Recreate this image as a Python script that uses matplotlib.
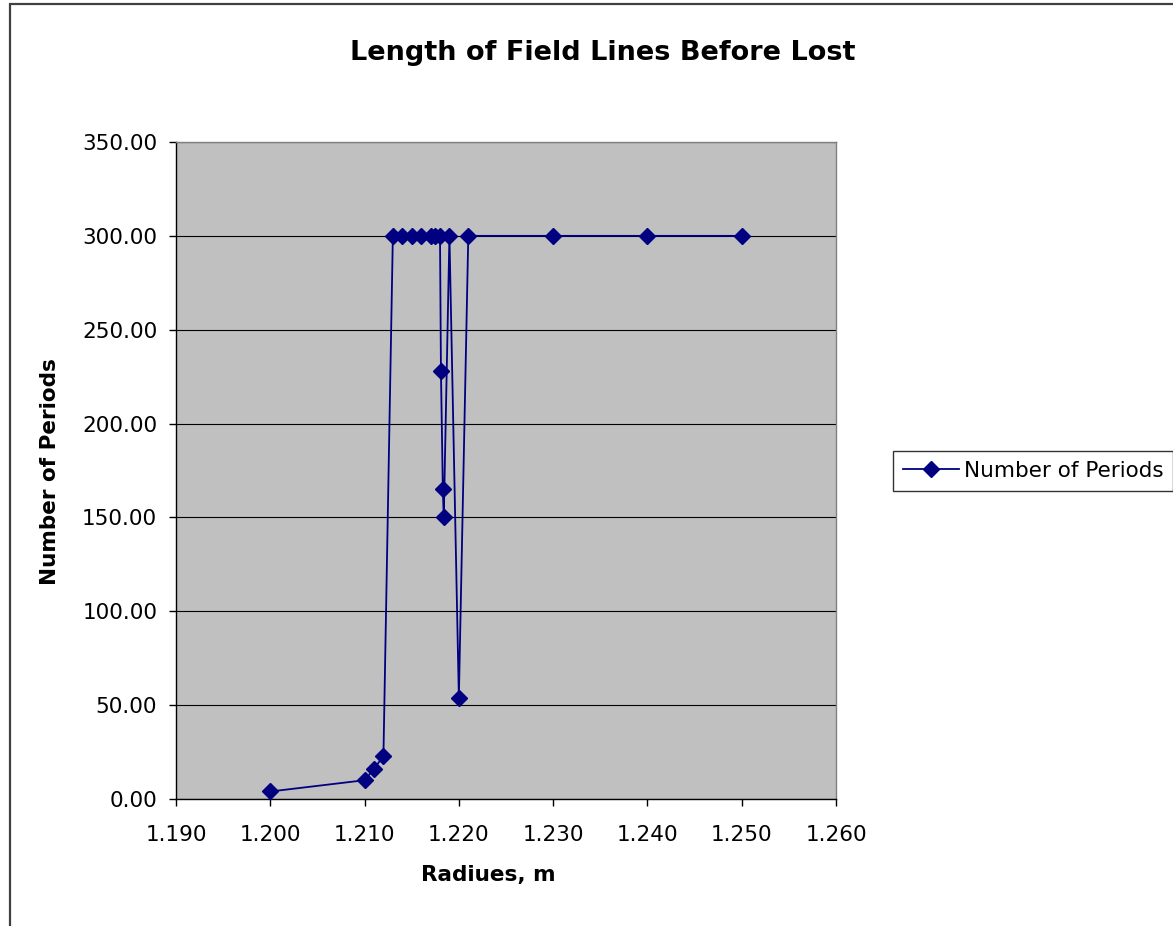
import matplotlib
matplotlib.use("Agg")
import matplotlib.pyplot as plt
from matplotlib.patches import Rectangle

plt.rcParams['font.family'] = ['DejaVu Sans']

# Data
radius = [1.200, 1.210, 1.211, 1.212, 1.213, 1.214, 1.215, 1.216, 1.217, 1.2175,
          1.218, 1.2181, 1.2183, 1.2184, 1.219, 1.220, 1.221, 1.230, 1.240, 1.250]
periods = [4, 10, 16, 23, 300, 300, 300, 300, 300, 300,
           300, 228, 165, 150, 300, 54, 300, 300, 300, 300]

x_ticks = [1.190, 1.200, 1.210, 1.220, 1.230, 1.240, 1.250, 1.260]
y_ticks = [0, 50, 100, 150, 200, 250, 300, 350]

title = "Length of Field Lines Before Lost"
x_label = "Radiues, m"
y_label = "Number of Periods"
series_name = "Number of Periods"

W, H = 1173, 926
fig = plt.figure(figsize=(W / 100, H / 100), dpi=100)
fig.patch.set_facecolor('white')

# outer chart border (extends past right and bottom edges)
fig.patches.append(Rectangle((10 / W, -0.05), 1.2, (H - 4) / H + 0.05,
                             transform=fig.transFigure, fill=False,
                             edgecolor='#404040', linewidth=1.6))

ax = fig.add_axes([176 / W, (H - 799) / H, (836 - 176) / W, (799 - 142) / H])
ax.set_facecolor('#C0C0C0')
for s in ax.spines.values():
    s.set_color('#808080')
    s.set_linewidth(1.0)
ax.spines['bottom'].set_color('black')
ax.spines['left'].set_color('black')

ax.set_xlim(1.190, 1.260)
ax.set_ylim(0, 350)
ax.set_xticks(x_ticks)
ax.set_xticklabels([f"{v:.3f}" for v in x_ticks])
ax.set_yticks(y_ticks)
ax.set_yticklabels([f"{v:.2f}" for v in y_ticks])
ax.tick_params(axis='both', direction='out', length=5, width=1, color='black',
               labelsize=15.5)
ax.tick_params(axis='x', pad=14)
ax.tick_params(axis='y', pad=8.5)
ax.yaxis.grid(True, color='black', linewidth=0.8)
ax.set_axisbelow(True)

line, = ax.plot(radius, periods, color='#000080', linewidth=1.3, marker='D',
                markersize=8.5, markerfacecolor='#000080', markeredgecolor='#000080',
                label=series_name, clip_on=False, zorder=3)

fig.text(603 / W, 1 - 53 / H, title, ha='center', va='center',
         fontsize=19.5, fontweight='bold')
fig.text(488 / W, 1 - 875 / H, x_label, ha='center', va='center',
         fontsize=15.5, fontweight='bold')
fig.text(50 / W, 1 - 472 / H, y_label, ha='center', va='center',
         fontsize=15.5, fontweight='bold', rotation=90)

leg = fig.legend(handles=[line], loc='center left',
                 bbox_to_anchor=(893 / W, 1 - 471 / H), fontsize=15.5,
                 frameon=True, fancybox=False, handlelength=2.6,
                 handletextpad=0.25, borderpad=0.45, borderaxespad=0)
leg.get_frame().set_edgecolor('black')
leg.get_frame().set_linewidth(1.0)

fig.savefig('out.png', dpi=100, facecolor='white')
